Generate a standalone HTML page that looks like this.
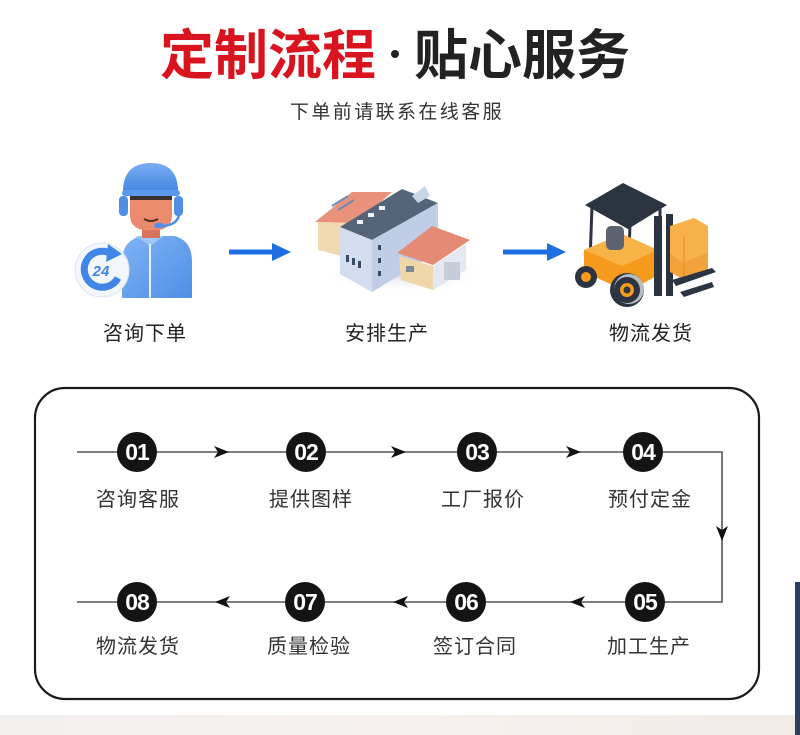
<!DOCTYPE html>
<html>
<head>
<meta charset="utf-8">
<style>
html,body{margin:0;padding:0;background:#fff;}
body{width:800px;height:735px;overflow:hidden;}
svg{display:block;}
.cjk{font-family:"Liberation Sans","Noto Sans CJK SC","WenQuanYi Zen Hei",sans-serif;}
</style>
</head>
<body>
<svg width="800" height="735" viewBox="0 0 800 735" xmlns="http://www.w3.org/2000/svg">
<defs>
  <linearGradient id="band" x1="0" y1="0" x2="1" y2="0">
    <stop offset="0" stop-color="#f2f0ef"/>
    <stop offset="0.5" stop-color="#f6f1ee"/>
    <stop offset="1" stop-color="#f1ebe8"/>
  </linearGradient>
  <linearGradient id="shirt" x1="0" y1="0" x2="1" y2="1">
    <stop offset="0" stop-color="#7fb3f5"/>
    <stop offset="1" stop-color="#4f8fe6"/>
  </linearGradient>
  <linearGradient id="cap" x1="0" y1="0" x2="0" y2="1">
    <stop offset="0" stop-color="#79adf3"/>
    <stop offset="1" stop-color="#3f83e0"/>
  </linearGradient>
  <radialGradient id="shadow" cx="0.5" cy="0.5" r="0.5">
    <stop offset="0" stop-color="#d9dbf0"/>
    <stop offset="1" stop-color="#ffffff" stop-opacity="0"/>
  </radialGradient>
</defs>

<!-- bottom band -->
<rect x="0" y="715" width="800" height="20" fill="url(#band)"/>
<rect x="795" y="582" width="5" height="153" fill="#2d3f5e"/>

<!-- Title -->
<text x="160" y="74" class="cjk" font-size="54" font-weight="bold" fill="#d9141f" style="font-family:'Noto Sans CJK SC','WenQuanYi Zen Hei',sans-serif">定制流程</text>
<circle cx="395" cy="54" r="4" fill="#222"/>
<text x="414" y="74" class="cjk" font-size="54" font-weight="bold" fill="#222" style="font-family:'Noto Sans CJK SC','WenQuanYi Zen Hei',sans-serif">贴心服务</text>
<text x="290" y="118" class="cjk" font-size="19" fill="#333" letter-spacing="2.4">下单前请联系在线客服</text>

<!-- Icon 1: customer service -->
<g>
  <path d="M122 298 L122 262 Q122 240 142 236 L174 236 Q192 240 192 262 L192 298 Z" fill="url(#shirt)"/>
  <path d="M136 236 L150 246 L164 236" fill="#9fc6f7"/>
  <line x1="150" y1="244" x2="150" y2="298" stroke="#e8f1fe" stroke-width="2"/>
  <rect x="142" y="222" width="18" height="16" fill="#d9735c"/>
  <rect x="130" y="188" width="42" height="42" rx="14" fill="#ec8a6e"/>
  <path d="M130 196 Q132 186 140 186 L160 186 Q170 186 172 196 L172 200 L130 200 Z" fill="#3a3230"/>
  <path d="M144 219 Q151 223 158 219" stroke="#5a2a20" stroke-width="2" fill="none"/>
  <path d="M123 194 Q122 163 151 163 Q179 163 178 194 Z" fill="url(#cap)"/>
  <rect x="122" y="190" width="58" height="6" rx="3" fill="#5b98ea"/>
  <rect x="119" y="196" width="9" height="20" rx="4" fill="#4f8fe6"/>
  <rect x="174" y="196" width="9" height="20" rx="4" fill="#4f8fe6"/>
  <path d="M179 214 Q178 225 162 226" stroke="#4f8fe6" stroke-width="2.5" fill="none"/>
  <rect x="154" y="223" width="10" height="5" rx="2.5" fill="#4f8fe6"/>
  <circle cx="102" cy="270" r="27" fill="#f3f6fb" stroke="#dde6f3" stroke-width="1"/>
  <path d="M118 278 A18 18 0 1 1 110 253" stroke="#3f86e8" stroke-width="7" fill="none"/>
  <polygon points="108,244 122,254 106,262" fill="#3f86e8"/>
  <text x="101" y="276" font-family="Liberation Sans,sans-serif" font-size="15" font-weight="bold" fill="#3f86e8" text-anchor="middle" font-style="italic">24</text>
</g>
<text x="145" y="340" class="cjk" font-size="20" fill="#222" text-anchor="middle" letter-spacing="1">咨询下单</text>

<!-- Arrow 1 -->
<line x1="229" y1="252" x2="276" y2="252" stroke="#1e6fe3" stroke-width="5"/>
<polygon points="272,243 291,252 272,261" fill="#1e6fe3"/>

<!-- Icon 2: factory -->
<g>
  <ellipse cx="405" cy="275" rx="85" ry="18" fill="url(#shadow)"/>
  <polygon points="315,222 352,192 392,192 357,223" fill="#e8917b"/>
  <polygon points="318,222 357,223 357,260 318,250" fill="#f0d9b0"/>
  <line x1="332" y1="206" x2="348" y2="196" stroke="#6e8bb0" stroke-width="2"/>
  <line x1="338" y1="210" x2="354" y2="200" stroke="#6e8bb0" stroke-width="2"/>
  <polygon points="340,227 402,189 438,203 372,240" fill="#56647a"/>
  <polygon points="340,227 372,240 372,292 340,274" fill="#d3ddef"/>
  <polygon points="372,240 438,203 438,252 372,292" fill="#bfcde6"/>
  <polygon points="412,196 425,186 430,196 418,203" fill="#c9d6ea"/>
  <rect x="357" y="220" width="6" height="4" fill="#eef3fb"/>
  <rect x="368" y="213" width="6" height="4" fill="#eef3fb"/>
  <rect x="379" y="206" width="6" height="4" fill="#eef3fb"/>
  <rect x="346" y="255" width="3" height="7" fill="#3b4a63"/>
  <rect x="352" y="258" width="3" height="7" fill="#3b4a63"/>
  <rect x="358" y="261" width="3" height="7" fill="#3b4a63"/>
  <rect x="378" y="245" width="3" height="5" fill="#3b4a63"/>
  <rect x="378" y="258" width="3" height="5" fill="#3b4a63"/>
  <rect x="378" y="271" width="3" height="5" fill="#3b4a63"/>
  <polygon points="397,253 432,226 470,240 433,265" fill="#e58a74"/>
  <polygon points="399,256 433,266 433,290 401,280" fill="#f0d6a8"/>
  <polygon points="433,266 466,244 466,270 433,290" fill="#e4e8f1"/>
  <rect x="444" y="262" width="16" height="18" fill="#c6cdd9"/>
  <rect x="406" y="266" width="8" height="6" fill="#7b8799"/>
</g>
<text x="387" y="340" class="cjk" font-size="20" fill="#222" text-anchor="middle" letter-spacing="1">安排生产</text>

<!-- Arrow 2 -->
<line x1="503" y1="252" x2="551" y2="252" stroke="#1e6fe3" stroke-width="5"/>
<polygon points="547,243 566,252 547,261" fill="#1e6fe3"/>

<!-- Icon 3: forklift -->
<g>
  <line x1="592" y1="206" x2="590" y2="262" stroke="#2b3440" stroke-width="3"/>
  <line x1="630" y1="224" x2="628" y2="282" stroke="#2b3440" stroke-width="3"/>
  <line x1="660" y1="207" x2="660" y2="250" stroke="#2b3440" stroke-width="3"/>
  <polygon points="584,250 622,234 658,250 658,275 628,292 584,272" fill="#f59a1c"/>
  <polygon points="584,250 622,234 658,250 622,266" fill="#f8b347"/>
  <rect x="606" y="226" width="18" height="24" rx="5" fill="#5d6470"/>
  <rect x="654" y="216" width="8" height="80" fill="#2b3440"/>
  <rect x="666" y="214" width="7" height="82" fill="#2b3440"/>
  <polygon points="670,226 694,218 708,226 708,252 684,262 670,254" fill="#f7b04a"/>
  <polygon points="670,254 684,262 708,252 708,272 684,280 670,272" fill="#f2a23a"/>
  <line x1="684" y1="236" x2="684" y2="280" stroke="#e08b25" stroke-width="1"/>
  <polygon points="672,280 712,268 716,272 676,286" fill="#2b3440"/>
  <polygon points="680,292 712,282 714,287 684,297" fill="#2b3440"/>
  <polygon points="585,205 623,183 667,205 628,229" fill="#2b3440"/>
  <circle cx="586" cy="277" r="11" fill="#2b3440"/>
  <circle cx="586" cy="277" r="5" fill="#f59a1c"/>
  <circle cx="627" cy="290" r="17" fill="#2b3440"/>
  <circle cx="629" cy="289" r="15" fill="#b7bcc4"/>
  <circle cx="627" cy="290" r="13" fill="#2b3440"/>
  <circle cx="627" cy="290" r="7" fill="#f59a1c"/>
  <circle cx="627" cy="290" r="3.5" fill="#2b3440"/>
</g>
<text x="651" y="340" class="cjk" font-size="20" fill="#222" text-anchor="middle" letter-spacing="1">物流发货</text>

<!-- Process box -->
<rect x="35" y="388" width="724" height="311" rx="30" ry="30" fill="none" stroke="#1a1a1a" stroke-width="2.2"/>

<polyline points="77,452 722,452 722,602 77,602" fill="none" stroke="#555" stroke-width="1.6"/>

<g fill="#111">
  <polygon points="214,446 229,452 214,458 218,452"/>
  <polygon points="391,446 406,452 391,458 395,452"/>
  <polygon points="566,446 581,452 566,458 570,452"/>
  <polygon points="716,526 722,541 728,526 722,530"/>
  <polygon points="585,596 570,602 585,608 581,602"/>
  <polygon points="408,596 393,602 408,608 404,602"/>
  <polygon points="230,596 215,602 230,608 226,602"/>
</g>

<g fill="#141414">
  <circle cx="137" cy="452" r="20"/>
  <circle cx="306" cy="452" r="20"/>
  <circle cx="477" cy="452" r="20"/>
  <circle cx="643" cy="452" r="20"/>
  <circle cx="645" cy="602" r="20"/>
  <circle cx="466" cy="602" r="20"/>
  <circle cx="305" cy="602" r="20"/>
  <circle cx="137" cy="602" r="20"/>
</g>
<g font-family="Liberation Sans,sans-serif" font-weight="bold" font-size="23" fill="#fff" text-anchor="middle" letter-spacing="-1">
  <text x="137" y="460">01</text>
  <text x="306" y="460">02</text>
  <text x="477" y="460">03</text>
  <text x="643" y="460">04</text>
  <text x="645" y="610">05</text>
  <text x="466" y="610">06</text>
  <text x="305" y="610">07</text>
  <text x="137" y="610">08</text>
</g>

<g class="cjk" font-size="20" fill="#333" text-anchor="middle" letter-spacing="1">
  <text x="138" y="506">咨询客服</text>
  <text x="311" y="506">提供图样</text>
  <text x="483" y="506">工厂报价</text>
  <text x="650" y="506">预付定金</text>
  <text x="649" y="653">加工生产</text>
  <text x="475" y="653">签订合同</text>
  <text x="309" y="653">质量检验</text>
  <text x="138" y="653">物流发货</text>
</g>
</svg>
</body>
</html>
